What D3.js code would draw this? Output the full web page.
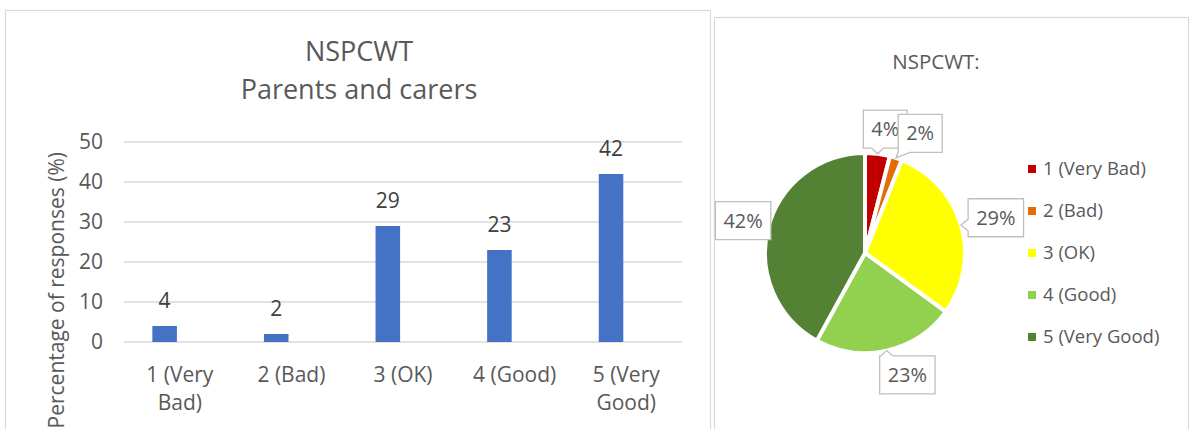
<!DOCTYPE html>
<html>
<head>
<meta charset="utf-8">
<script src="https://cdn.jsdelivr.net/npm/d3@7"></script>
<style>
  html, body { margin: 0; padding: 0; background: #ffffff; overflow: hidden; }
  svg { display: block; font-family: "Open Sans", "Noto Sans", sans-serif; }
</style>
</head>
<body>
<svg id="chart" width="1191" height="429"></svg>
<script>
// ---- data ----
const categories = ["1 (Very Bad)", "2 (Bad)", "3 (OK)", "4 (Good)", "5 (Very Good)"];
const categoryLines = [["1 (Very", "Bad)"], ["2 (Bad)"], ["3 (OK)"], ["4 (Good)"], ["5 (Very", "Good)"]];
const barValues = [4, 2, 29, 23, 42];
const pieValues = [4, 2, 29, 23, 42];
const yTicks = [0, 10, 20, 30, 40, 50];
const pieColors = ["#C00000", "#E36C09", "#FFFF00", "#92D050", "#548235"];
const barTitleLines = ["NSPCWT", "Parents and carers"];
const pieTitle = "NSPCWT:";
const yAxisTitle = "Percentage of responses (%)";

// ---- layout ----
const svg = d3.select("#chart");
const textGrey = "#595959";
const labelGrey = "#404040";
const borderGrey = "#D9D9D9";
const axisFont = 21;

// chart panels
svg.append("rect").attr("x", 5.5).attr("y", 10.5).attr("width", 705).attr("height", 440)
  .attr("fill", "#fff").attr("stroke", borderGrey).attr("stroke-width", 1.2);
svg.append("rect").attr("x", 714.5).attr("y", 17.5).attr("width", 474).attr("height", 430)
  .attr("fill", "#fff").attr("stroke", borderGrey).attr("stroke-width", 1.2);

// ================= bar chart =================
const plot = { left: 124, right: 682, top: 142, bottom: 342 };
const x = d3.scaleBand().domain(categories).range([plot.left, plot.right]).padding(0);
const y = d3.scaleLinear().domain([0, 50]).range([plot.bottom, plot.top]);
const barOffset = 0.254, barFrac = 0.22;

// gridlines
svg.append("g").selectAll("line").data(yTicks).join("line")
  .attr("x1", plot.left).attr("x2", plot.right)
  .attr("y1", d => y(d)).attr("y2", d => y(d))
  .attr("stroke", borderGrey).attr("stroke-width", 1.5);

// y axis
const yAxis = svg.append("g").attr("transform", `translate(${plot.left},0)`)
  .call(d3.axisLeft(y).tickValues(yTicks).tickSize(0).tickPadding(21));
yAxis.select(".domain").remove();
yAxis.selectAll("text").attr("font-size", axisFont).attr("fill", textGrey)
  .attr("font-family", "\"Open Sans\", sans-serif");

// x axis with wrapped category labels
const xAxis = svg.append("g").attr("transform", `translate(0,${plot.bottom})`)
  .call(d3.axisBottom(x).tickSize(0).tickFormat(() => ""));
xAxis.select(".domain").remove();
xAxis.selectAll(".tick text").each(function (d, i) {
  const t = d3.select(this).attr("y", 33).attr("dy", null)
    .attr("font-size", axisFont).attr("fill", textGrey)
    .attr("font-family", "\"Open Sans\", sans-serif");
  categoryLines[i].forEach((line, j) => {
    t.append("tspan").attr("x", 0).attr("dy", j === 0 ? "0.35em" : 28).text(line);
  });
});

// bars
svg.append("g").selectAll("rect").data(barValues).join("rect")
  .attr("x", (d, i) => x(categories[i]) + x.bandwidth() * barOffset)
  .attr("width", x.bandwidth() * barFrac)
  .attr("y", d => y(d))
  .attr("height", d => y(0) - y(d))
  .attr("fill", "#4472C4");

// value labels
svg.append("g").selectAll("text").data(barValues).join("text")
  .attr("x", (d, i) => x(categories[i]) + x.bandwidth() * (barOffset + barFrac / 2))
  .attr("y", d => y(d) - 25)
  .attr("dy", "0.35em")
  .attr("text-anchor", "middle")
  .attr("font-size", 21).attr("fill", labelGrey)
  .text(d => d);

// title
svg.append("g").selectAll("text").data(barTitleLines).join("text")
  .attr("x", 359).attr("y", (d, i) => 51.5 + i * 38.5)
  .attr("dy", "0.35em").attr("text-anchor", "middle")
  .attr("font-size", 27).attr("fill", textGrey)
  .text(d => d);

// y axis title
svg.append("text")
  .attr("transform", "translate(57,152) rotate(-90)")
  .attr("text-anchor", "end").attr("dy", "0.35em")
  .attr("font-size", axisFont).attr("fill", textGrey)
  .text(yAxisTitle);

// ================= pie chart =================
const cx = 865, cy = 253, radius = 100;
const pieG = svg.append("g").attr("transform", `translate(${cx},${cy})`);
const arcs = d3.pie().sort(null).value(d => d)(pieValues);
const arc = d3.arc().innerRadius(0).outerRadius(radius);

pieG.selectAll("path").data(arcs).join("path")
  .attr("d", arc)
  .attr("fill", (d, i) => pieColors[i])
  .attr("stroke", "#fff").attr("stroke-width", 4).attr("stroke-linejoin", "round");

// callout labels
const labelArc = d3.arc().innerRadius(130).outerRadius(130);
const tipArc = d3.arc().innerRadius(radius).outerRadius(radius);
const labelNudge = [[4, 5], [15, 4], [6, 1], [14, -5], [4, 0]];
const boxH = 38, boxPad = 8;

function calloutPoints(bx, by, w, h, tx, ty) {
  const l = bx - w / 2, r = bx + w / 2, t = by - h / 2, b = by + h / 2;
  const beyondX = tx < l ? l - tx : (tx > r ? tx - r : 0);
  const beyondY = ty < t ? t - ty : (ty > b ? ty - b : 0);
  let side = null;
  if (beyondX > 0 || beyondY > 0) {
    if (beyondY >= beyondX) side = ty > b ? "bottom" : "top";
    else side = tx < l ? "left" : "right";
  }
  const half = 6;
  const clampX = v => Math.max(l, Math.min(r - 2 * half, v - half));
  const clampY = v => Math.max(t, Math.min(b - 2 * half, v - half));
  const pts = [[l, t]];
  if (side === "top") { const s = clampX(tx); pts.push([s, t], [tx, ty], [s + 2 * half, t]); }
  pts.push([r, t]);
  if (side === "right") { const s = clampY(ty); pts.push([r, s], [tx, ty], [r, s + 2 * half]); }
  pts.push([r, b]);
  if (side === "bottom") { const s = clampX(tx); pts.push([s + 2 * half, b], [tx, ty], [s, b]); }
  pts.push([l, b]);
  if (side === "left") { const s = clampY(ty); pts.push([l, s + 2 * half], [tx, ty], [l, s]); }
  return pts;
}

arcs.forEach((a, i) => {
  const [lx, ly] = labelArc.centroid(a);
  const bx = lx + labelNudge[i][0], by = ly + labelNudge[i][1];
  const [tx, ty] = tipArc.centroid(a);
  const g = pieG.append("g");
  const path = g.append("path");
  const txt = g.append("text")
    .attr("x", bx).attr("y", by).attr("dy", "0.35em")
    .attr("text-anchor", "middle").attr("font-size", 20).attr("fill", textGrey)
    .text(Math.round(pieValues[i] / d3.sum(pieValues) * 100) + "%");
  const w = txt.node().getComputedTextLength() + boxPad * 2;
  path.attr("d", d3.line()(calloutPoints(bx, by, w, boxH, tx, ty)) + "Z")
    .attr("fill", "#fff").attr("stroke", "#BFBFBF").attr("stroke-width", 1.3);
});

// pie title
svg.append("text").attr("x", 936).attr("y", 62).attr("dy", "0.35em")
  .attr("text-anchor", "middle").attr("font-size", 20.5).attr("fill", textGrey)
  .text(pieTitle);

// legend
const legend = svg.append("g").attr("transform", "translate(1028,169)");
const legendRows = legend.selectAll("g").data(categories).join("g")
  .attr("transform", (d, i) => `translate(0,${i * 42})`);
legendRows.append("rect").attr("x", 0).attr("y", -4).attr("width", 8).attr("height", 8)
  .attr("fill", (d, i) => pieColors[i]);
legendRows.append("text").attr("x", 15).attr("dy", "0.35em")
  .attr("font-size", 18.5).attr("fill", textGrey).text(d => d);
</script>
</body>
</html>
